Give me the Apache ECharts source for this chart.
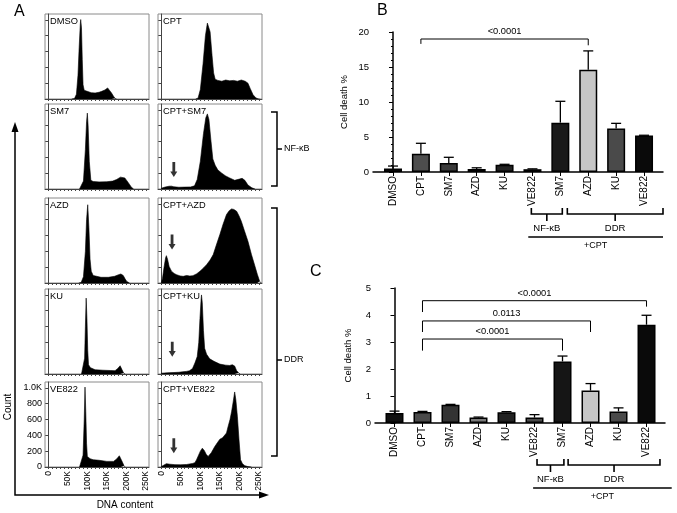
<!DOCTYPE html>
<html><head><meta charset="utf-8">
<script src="https://cdn.jsdelivr.net/npm/echarts@6/dist/echarts.min.js"></script>
<style>html,body{margin:0;padding:0;background:#fff}#c{width:677px;height:513px}</style>
</head><body><div id="c"></div>
<script>
// ---------- DATA ----------
// Panel A histograms: [DNA content (K), count]
const dmso = [[60,0],[67,5],[72,60],[76,300],[79,650],[82,950],[83,1005],[85,900],[87,500],[89,180],[92,110],[97,95],[110,80],[120,76],[130,85],[137,97],[145,115],[152,140],[157,125],[162,76],[167,35],[171,8],[175,0]];
const cpt = [[88,0],[94,10],[100,120],[107,450],[113,800],[118,960],[121,975],[125,850],[130,550],[134,330],[138,250],[145,235],[155,225],[165,240],[175,230],[185,235],[195,225],[205,240],[215,225],[222,200],[228,130],[235,55],[242,15],[248,3],[252,0]];
const sm7 = [[80,0],[84,5],[90,100],[95,500],[98,850],[100,960],[102,800],[105,350],[109,110],[115,95],[130,90],[150,92],[165,100],[175,120],[185,150],[190,160],[196,140],[205,80],[212,30],[218,0]];
const cptSm7 = [[0,10],[10,25],[20,35],[26,36],[32,28],[45,22],[60,24],[75,26],[85,40],[92,120],[100,350],[108,700],[114,900],[118,950],[122,880],[127,620],[132,380],[138,300],[145,240],[155,200],[165,165],[175,140],[188,110],[200,125],[207,135],[214,110],[222,50],[232,15],[240,0]];
const azd = [[78,0],[84,5],[90,80],[95,400],[98,800],[101,990],[104,700],[107,300],[110,148],[115,95],[120,75],[135,72],[154,72],[170,85],[180,105],[186,114],[192,95],[197,50],[201,20],[208,0]];
const cptAzd = [[0,0],[3,60],[7,200],[11,320],[13,346],[16,300],[20,210],[26,150],[33,120],[39,105],[48,90],[56,84],[65,95],[73,88],[81,93],[90,115],[99,148],[108,190],[116,232],[125,290],[133,359],[141,480],[150,612],[158,740],[167,865],[174,915],[180,937],[186,930],[193,907],[199,850],[205,780],[213,660],[222,527],[231,360],[240,211],[246,110],[252,21],[256,0]];
const ku = [[85,0],[90,10],[93,200],[95,600],[97,960],[99,700],[101,300],[103,117],[108,80],[120,54],[140,48],[160,44],[171,42],[178,70],[184,104],[189,80],[193,12],[197,0]];
const cptKu = [[0,10],[15,15],[30,18],[45,22],[55,28],[64,33],[72,40],[80,70],[86,138],[92,220],[96,400],[99,700],[102,950],[103,1000],[105,900],[108,550],[111,325],[116,250],[124,192],[135,160],[150,125],[165,112],[175,108],[182,117],[188,100],[193,42],[198,15],[202,0]];
const ve822 = [[80,0],[85,10],[89,150],[92,600],[94,1011],[96,700],[98,300],[100,134],[107,105],[115,92],[130,85],[150,71],[167,71],[175,100],[182,142],[186,120],[190,60],[194,15],[197,0]];
const cptVe822 = [[0,5],[5,25],[13,42],[22,35],[35,30],[50,28],[65,32],[80,45],[86,55],[90,90],[94,134],[100,200],[105,238],[110,210],[115,160],[120,134],[128,180],[137,259],[144,310],[150,351],[157,370],[162,376],[167,430],[171,510],[176,600],[180,698],[184,820],[188,949],[191,850],[195,635],[199,350],[203,92],[208,40],[214,17],[222,5],[231,0]];
const histTitles = ['DMSO','CPT','SM7','CPT+SM7','AZD','CPT+AZD','KU','CPT+KU','VE822','CPT+VE822'];
const histData = [dmso, cpt, sm7, cptSm7, azd, cptAzd, ku, cptKu, ve822, cptVe822];
// arrows (x K, count top, count bottom) for panels with sub-G1 arrows
const arrowsAt = {3:[32,340,151], 5:[27.5,612,422], 7:[28,408,221], 9:[32,364,176]};
const histXTicks = [0,50,100,150,200,250];
const histXLabels = ['0','50K','100K','150K','200K','250K'];
const histYTicks = [0,200,400,600,800,1000];
const histYLabels = ['0','200','400','600','800','1.0K'];

// Panels B and C
const categories = ['DMSO','CPT','SM7','AZD','KU','VE822','SM7','AZD','KU','VE822'];
const bValues = [0.5, 2.6, 1.3, 0.43, 1.05, 0.4, 7.05, 14.6, 6.2, 5.2];
const bErrors = [0.35, 1.5, 0.8, 0.17, 0.05, 0.05, 3.05, 2.7, 0.75, 0.05];
const cValues = [0.37, 0.41, 0.68, 0.2, 0.4, 0.2, 2.28, 1.2, 0.43, 3.64];
const cErrors = [0.07, 0.02, 0.01, 0.02, 0.02, 0.11, 0.2, 0.26, 0.13, 0.35];
const bTicks = [0, 5, 10, 15, 20];
const cTicks = [0, 1, 2, 3, 4, 5];
// significance brackets: [from index, to index, line y, left end y, right end y]
const bSig = [[1, 7, 19.0, 18.3, 18.1]];
const bSigLabels = ['<0.0001'];
const cSig = [[1, 9, 4.53, 4.11, 4.31], [1, 7, 3.78, 3.37, 3.37], [1, 6, 3.11, 2.68, 2.68]];
const cSigLabels = ['<0.0001', '0.0113', '<0.0001'];

// ---------- STYLE / LAYOUT ----------
const FONT = '"Liberation Sans", Arial, Helvetica, sans-serif';
const bColors = ['#111','#4d4d4d','#3a3a3a','#2a2a2a','#222','#333','#1a1a1a','#c6c6c6','#4a4a4a','#0a0a0a'];
const cColors = ['#111','#4a4a4a','#333','#7a7a7a','#222','#4a4a4a','#151515','#c6c6c6','#4a4a4a','#0a0a0a'];
const COLS = [45, 158], HW = 104, HH = 85, ROWS = [14, 104, 198, 289, 382];

const grids = [], xAxes = [], yAxes = [], series = [], graphics = [];
histData.forEach((d, k) => {
  const row = Math.floor(k / 2), col = k % 2;
  const left = COLS[col], top = ROWS[row];
  grids.push({left, top, width: HW, height: HH, show: true, borderColor: '#8a8a8a', borderWidth: 1, backgroundColor: '#fff'});
  const bottomRow = row === 4, leftCol = col === 0;
  xAxes.push({type: 'value', gridIndex: k, min: -8.5, max: 258, splitLine: {show: false},
    axisLine: {show: true, lineStyle: {color: '#444', width: 1}},
    axisTick: {show: true, length: 2, customValues: Array.from({length: 26}, (_, i) => i * 10), lineStyle: {color: '#444'}},
    axisLabel: {show: bottomRow, customValues: histXTicks, rotate: 90, fontSize: 8.5, color: '#000', fontFamily: FONT, margin: 4,
      formatter: v => histXLabels[histXTicks.indexOf(v)]}});
  yAxes.push({type: 'value', gridIndex: k, min: 0, max: 1075, splitLine: {show: false},
    axisLine: {show: true, lineStyle: {color: '#444', width: 1}},
    axisTick: {show: true, length: 3, customValues: histYTicks, lineStyle: {color: '#444'}},
    axisLabel: {show: bottomRow && leftCol, customValues: histYTicks, fontSize: 9, color: '#000', fontFamily: FONT, margin: 3,
      formatter: v => histYLabels[histYTicks.indexOf(v)]}});
  series.push({type: 'line', xAxisIndex: k, yAxisIndex: k, data: d, symbol: 'none', smooth: false,
    lineStyle: {color: '#000', width: 0.6}, areaStyle: {color: '#000', opacity: 1}, z: 2});
  if (arrowsAt[k]) {
    const a = arrowsAt[k];
    series.push({type: 'scatter', xAxisIndex: k, yAxisIndex: k, data: [[a[0], (a[1] + a[2]) / 2]],
      symbol: 'path://M3,0 L7,0 L7,10 L10,10 L5,16 L0,10 L3,10 Z', symbolSize: [7, 15],
      itemStyle: {color: '#000'}, silent: true, z: 3});
  }
  graphics.push({type: 'text', left: left + 5, top: top + 3, z: 10,
    style: {text: histTitles[k], font: '9.3px ' + FONT, fill: '#000'}});
});

function barPanel(idx, gridDef, min, max, values, errors, colors, ticks, minor, nameGap, sig, sigLabels, groupSpans) {
  grids.push(gridDef);
  xAxes.push({type: 'value', gridIndex: idx, min, max, splitLine: {show: false},
    axisLine: {show: true, lineStyle: {color: '#000', width: 1.5}},
    axisTick: {show: true, length: 4, customValues: categories.map((c, i) => i), lineStyle: {color: '#000', width: 1}},
    axisLabel: {customValues: categories.map((c, i) => i), rotate: 90, fontSize: 10, color: '#000', fontFamily: FONT, margin: 4,
      formatter: v => categories[Math.round(v)]}});
  yAxes.push({type: 'value', gridIndex: idx, min: ticks[0], max: ticks[ticks.length - 1], interval: ticks[1] - ticks[0],
    splitLine: {show: false},
    name: 'Cell death %', nameLocation: 'middle', nameGap, nameRotate: 90,
    nameTextStyle: {fontSize: 9.5, color: '#000', fontFamily: FONT},
    axisLine: {show: true, lineStyle: {color: '#000', width: 1.5}},
    axisTick: {show: true, length: 4, lineStyle: {color: '#000'}},
    minorTick: {show: minor, splitNumber: 5, length: 2, lineStyle: {color: '#000'}},
    axisLabel: {fontSize: 9.5, color: '#000', fontFamily: FONT, margin: 4}});
  series.push({type: 'bar', xAxisIndex: idx, yAxisIndex: idx, barWidth: 18,
    data: values.map((v, i) => ({value: [i, v], itemStyle: {color: colors[i]}})),
    itemStyle: {borderColor: '#000', borderWidth: 1.5}, z: 2});
  series.push({type: 'custom', xAxisIndex: idx, yAxisIndex: idx, z: 3, clip: false,
    data: values.map((v, i) => [i, v, errors[i]]),
    renderItem: (params, api) => {
      const x = api.value(0), v = api.value(1), e = api.value(2);
      const p0 = api.coord([x, v]), p1 = api.coord([x, v + e]);
      return {type: 'group', children: [
        {type: 'line', shape: {x1: p0[0], y1: p0[1], x2: p1[0], y2: p1[1]}, style: {stroke: '#000', lineWidth: 1.3}},
        {type: 'line', shape: {x1: p1[0] - 5, y1: p1[1], x2: p1[0] + 5, y2: p1[1]}, style: {stroke: '#000', lineWidth: 1.3}}
      ]};
    }});
  series.push({type: 'custom', xAxisIndex: idx, yAxisIndex: idx, z: 3, clip: false,
    data: sig.map((s, i) => s.concat([i])),
    renderItem: (params, api) => {
      const a = api.coord([api.value(0), api.value(2)]);
      const b = api.coord([api.value(1), api.value(2)]);
      const la = api.coord([api.value(0), api.value(3)]);
      const lb = api.coord([api.value(1), api.value(4)]);
      return {type: 'group', children: [
        {type: 'polyline', shape: {points: [[la[0], la[1]], [a[0], a[1]], [b[0], b[1]], [lb[0], lb[1]]]},
          style: {stroke: '#000', lineWidth: 1, fill: null}},
        {type: 'text', style: {text: sigLabels[api.value(5)], x: (a[0] + b[0]) / 2, y: a[1] - 3,
          align: 'center', verticalAlign: 'bottom', font: '9.3px ' + FONT, fill: '#000'}}
      ]};
    }});
  series.push({type: 'custom', xAxisIndex: idx, yAxisIndex: idx, z: 3, clip: false, data: [[0]],
    renderItem: (params, api) => {
      const ch = [];
      groupSpans.groups.forEach(g => {
        const p1 = api.coord([g.from, 0]), p2 = api.coord([g.to, 0]);
        const y0 = p1[1], xm = (p1[0] + p2[0]) / 2;
        ch.push({type: 'polyline', shape: {points: [[p1[0], y0 + 36], [p1[0], y0 + 42], [p2[0], y0 + 42], [p2[0], y0 + 36]]},
          style: {stroke: '#000', lineWidth: 1.6, fill: null}});
        ch.push({type: 'line', shape: {x1: xm, y1: y0 + 42, x2: xm, y2: y0 + 49}, style: {stroke: '#000', lineWidth: 1.6}});
        ch.push({type: 'text', style: {text: g.label, x: xm, y: y0 + 51, align: 'center', verticalAlign: 'top',
          font: '9.5px ' + FONT, fill: '#000'}});
      });
      const q1 = api.coord([groupSpans.line[0], 0]), q2 = api.coord([groupSpans.line[1], 0]);
      ch.push({type: 'line', shape: {x1: q1[0], y1: q1[1] + 65, x2: q2[0], y2: q2[1] + 65}, style: {stroke: '#000', lineWidth: 1.3}});
      ch.push({type: 'text', style: {text: '+CPT', x: (q1[0] + q2[0]) / 2, y: q1[1] + 69, align: 'center', verticalAlign: 'top',
        font: '9px ' + FONT, fill: '#000'}});
      return {type: 'group', children: ch};
    }});
}

barPanel(10, {left: 373, top: 32, width: 290, height: 140}, -0.717, 9.68, bValues, bErrors, bColors, bTicks, true, 24, bSig, bSigLabels,
  {groups: [{label: 'NF-κB', from: 4.96, to: 6.07}, {label: 'DDR', from: 6.25, to: 9.68}], line: [4.85, 9.68]});
barPanel(11, {left: 375, top: 288, width: 290, height: 135}, -0.696, 9.66, cValues, cErrors, cColors, cTicks, false, 22, cSig, cSigLabels,
  {groups: [{label: 'NF-κB', from: 5.09, to: 6.05}, {label: 'DDR', from: 6.2, to: 9.48}], line: [4.95, 9.9]});

// Panel A decorations
const L = {stroke: '#000', lineWidth: 1.5, fill: null};
graphics.push(
  {type: 'text', left: 14, top: 4, style: {text: 'A', font: '16px ' + FONT, fill: '#000'}},
  {type: 'text', left: 377, top: 3, style: {text: 'B', font: '16px ' + FONT, fill: '#000'}},
  {type: 'text', left: 310, top: 264, style: {text: 'C', font: '16px ' + FONT, fill: '#000'}},
  {type: 'polyline', shape: {points: [[271, 112], [277, 112], [277, 186], [271, 186]]}, style: L},
  {type: 'line', shape: {x1: 277, y1: 149, x2: 282, y2: 149}, style: L},
  {type: 'text', left: 284, top: 144, style: {text: 'NF-κB', font: '9px ' + FONT, fill: '#000'}},
  {type: 'polyline', shape: {points: [[271, 208], [277, 208], [277, 456], [271, 456]]}, style: L},
  {type: 'line', shape: {x1: 277, y1: 360, x2: 282, y2: 360}, style: L},
  {type: 'text', left: 284, top: 355, style: {text: 'DDR', font: '9px ' + FONT, fill: '#000'}},
  {type: 'polyline', shape: {points: [[15, 130], [15, 495], [261, 495]]}, style: L},
  {type: 'polygon', shape: {points: [[11.5, 132], [15, 122], [18.5, 132]]}, style: {fill: '#000'}},
  {type: 'polygon', shape: {points: [[259, 491.5], [269, 495], [259, 498.5]]}, style: {fill: '#000'}},
  {type: 'text', x: 8, y: 407, rotation: Math.PI / 2, style: {text: 'Count', font: '10px ' + FONT, fill: '#000', align: 'center', verticalAlign: 'middle'}},
  {type: 'text', x: 125, y: 505, style: {text: 'DNA content', font: '10px ' + FONT, fill: '#000', align: 'center', verticalAlign: 'middle'}}
);

const chart = echarts.init(document.getElementById('c'), null, {renderer: 'canvas'});
chart.setOption({backgroundColor: '#fff', animation: false, grid: grids, xAxis: xAxes, yAxis: yAxes, series, graphic: graphics});
</script></body></html>
